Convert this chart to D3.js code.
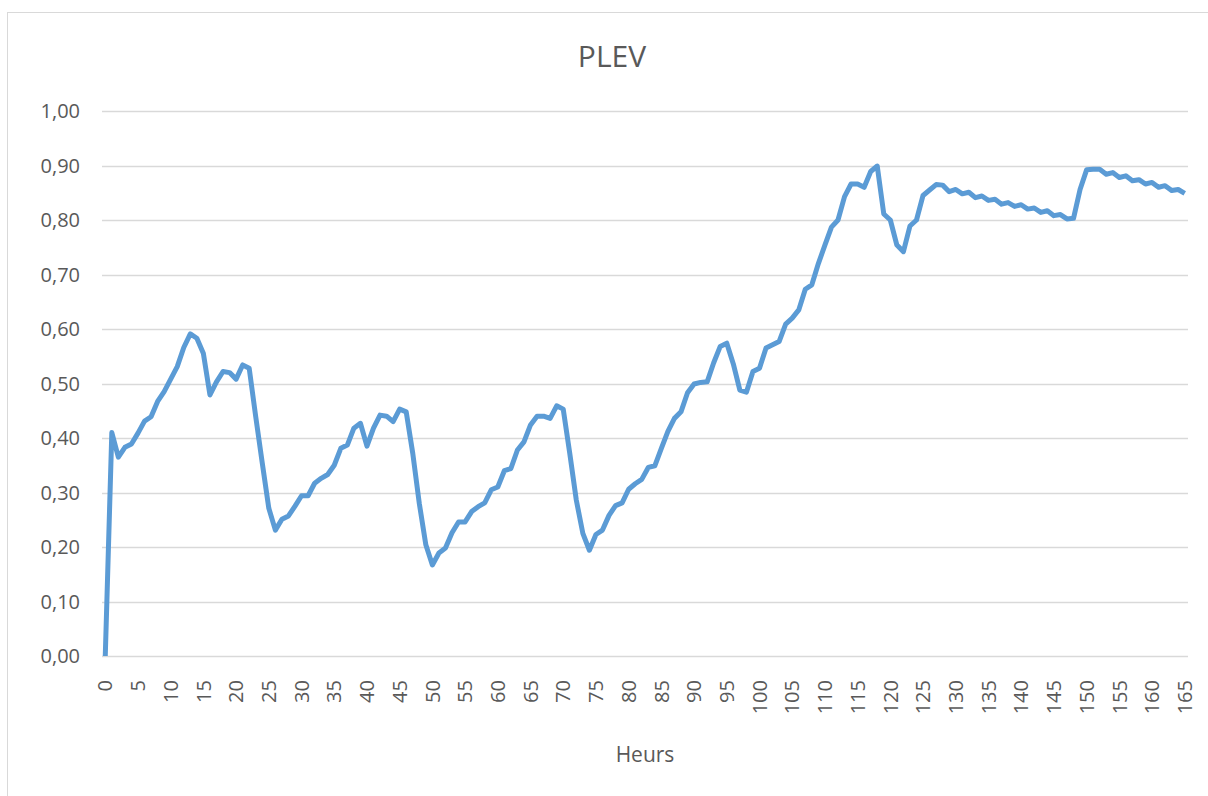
<!DOCTYPE html>
<html>
<head>
<meta charset="utf-8">
<script src="https://cdn.jsdelivr.net/npm/d3@7"></script>
<style>
  body { margin: 0; background: #fff; }
  svg text { font-family: "Open Sans", "DejaVu Sans", sans-serif; fill: #595959; }
</style>
</head>
<body>
<script>
// PLEV, one value per hour
const hours = d3.range(0, 166);
const plev = [
  0.000, 0.410, 0.365, 0.383, 0.389, 0.409, 0.431, 0.439, 0.467, 0.485,
  0.508, 0.531, 0.566, 0.591, 0.583, 0.555, 0.479, 0.503, 0.522, 0.520,
  0.508, 0.534, 0.528, 0.439, 0.354, 0.271, 0.231, 0.251, 0.257, 0.275,
  0.294, 0.294, 0.317, 0.326, 0.333, 0.350, 0.381, 0.387, 0.418, 0.427,
  0.385, 0.418, 0.442, 0.440, 0.430, 0.453, 0.448, 0.372, 0.280, 0.204,
  0.167, 0.189, 0.198, 0.226, 0.246, 0.246, 0.265, 0.274, 0.281, 0.305,
  0.310, 0.340, 0.344, 0.378, 0.393, 0.424, 0.440, 0.440, 0.436, 0.459,
  0.453, 0.372, 0.286, 0.225, 0.194, 0.223, 0.231, 0.258, 0.276, 0.281,
  0.306, 0.316, 0.324, 0.346, 0.349, 0.381, 0.412, 0.436, 0.448, 0.483,
  0.499, 0.502, 0.503, 0.538, 0.568, 0.574, 0.536, 0.488, 0.484, 0.522,
  0.528, 0.565, 0.571, 0.577, 0.609, 0.620, 0.635, 0.673, 0.681, 0.720,
  0.754, 0.787, 0.800, 0.843, 0.866, 0.866, 0.860, 0.889, 0.899, 0.811,
  0.800, 0.754, 0.742, 0.789, 0.800, 0.845, 0.855, 0.865, 0.864, 0.852,
  0.856, 0.848, 0.851, 0.841, 0.844, 0.836, 0.838, 0.829, 0.832, 0.825,
  0.828, 0.820, 0.822, 0.814, 0.817, 0.808, 0.810, 0.802, 0.803, 0.856,
  0.892, 0.893, 0.893, 0.884, 0.887, 0.878, 0.881, 0.872, 0.874, 0.866,
  0.869, 0.860, 0.863, 0.854, 0.856, 0.849
];
const yTicks = d3.range(0, 11).map(d => d / 10);
const xTickLabels = hours.filter(h => h % 5 === 0);

const width = 1208, height = 796;
const plot = { left: 102, right: 1188, top: 111, bottom: 656 };

const svg = d3.select("body").append("svg")
    .attr("width", width)
    .attr("height", height);

// chart frame
svg.append("rect")
    .attr("x", 7.5).attr("y", 12.5)
    .attr("width", 1300).attr("height", 900)
    .attr("fill", "none")
    .attr("stroke", "#d9d9d9")
    .attr("stroke-width", 1);

const x = d3.scalePoint()
    .domain(hours)
    .range([plot.left, plot.right])
    .padding(0.5);

const y = d3.scaleLinear()
    .domain([0, 1])
    .range([plot.bottom, plot.top]);

const fmt = v => d3.format(".2f")(v).replace(".", ",");

// gridlines
svg.append("g").selectAll("line")
    .data(yTicks)
    .join("line")
    .attr("x1", plot.left).attr("x2", plot.right)
    .attr("y1", d => Math.round(y(d)) + 0.5)
    .attr("y2", d => Math.round(y(d)) + 0.5)
    .attr("stroke", "#d9d9d9")
    .attr("stroke-width", 1.3);

// y labels
svg.append("g").selectAll("text")
    .data(yTicks)
    .join("text")
    .attr("x", 80)
    .attr("y", d => y(d))
    .attr("dy", "0.37em")
    .attr("text-anchor", "end")
    .attr("font-size", 20)
    .text(fmt);

// x labels, rotated
svg.append("g").selectAll("text")
    .data(xTickLabels)
    .join("text")
    .attr("transform", d => `translate(${x(d)},680) rotate(-90)`)
    .attr("dy", "0.36em")
    .attr("text-anchor", "end")
    .attr("font-size", 20)
    .text(d => d);

// the series
const line = d3.line()
    .x((d, i) => x(hours[i]))
    .y(d => y(d));

svg.append("path")
    .datum(plev)
    .attr("d", line)
    .attr("fill", "none")
    .attr("stroke", "#5b9bd5")
    .attr("stroke-width", 5)
    .attr("stroke-linejoin", "round")
    .attr("stroke-linecap", "butt");

// title and axis title
svg.append("text")
    .attr("x", 612).attr("y", 67)
    .attr("text-anchor", "middle")
    .attr("font-size", 30)
    .text("PLEV");

svg.append("text")
    .attr("x", 645).attr("y", 762)
    .attr("text-anchor", "middle")
    .attr("font-size", 21)
    .text("Heurs");
</script>
</body>
</html>
